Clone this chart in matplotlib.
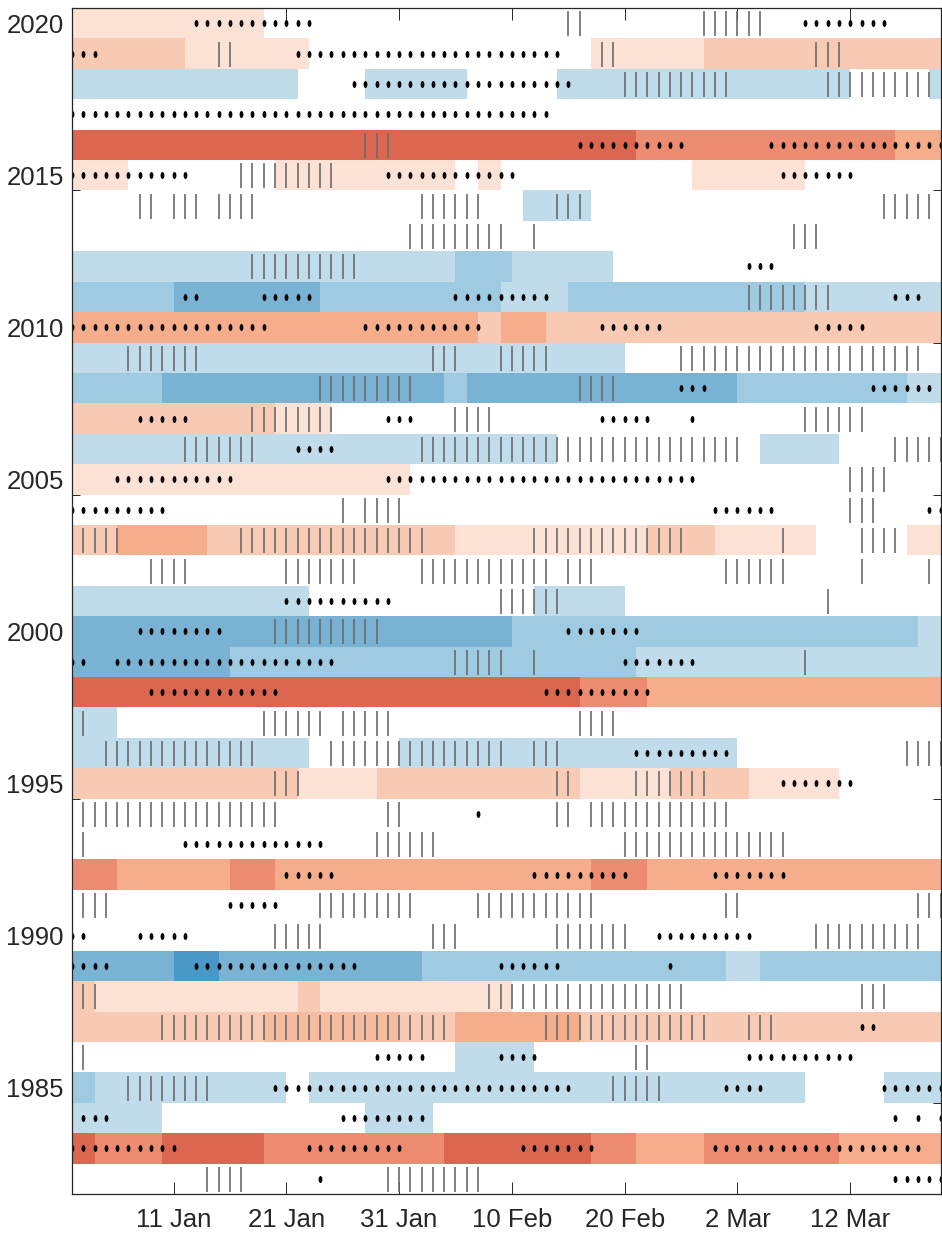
import matplotlib
matplotlib.use("Agg")
import matplotlib.pyplot as plt
from matplotlib.path import Path
from matplotlib.transforms import Affine2D

plt.rcParams['font.family'] = ['Liberation Sans', 'DejaVu Sans']

# day-of-year tick positions and labels
tick_days = [11, 21, 31, 41, 51, 61, 71]
tick_labels = ['11 Jan', '21 Jan', '31 Jan', '10 Feb', '20 Feb', '2 Mar', '12 Mar']
year_ticks = [1985, 1990, 1995, 2000, 2005, 2010, 2015, 2020]

# colour per state level (negative = blue, positive = red)
level_colors = {
    -4: '#4a96c7', -3: '#7ab2d4', -2: '#9ecbe1', -1: '#c0dcea',
    1: '#fce2d5', 2: '#f9cab3', 2.5: '#f7bc9f', 3: '#f5ad8b', 4: '#ec8b70', 5: '#db6751',
}

# coloured bar segments per year: (start day, end day, level)
bar_runs = {
    2020: [(2, 19, 1)],
    2019: [(2, 12, 2), (12, 23, 1), (48, 58, 1), (58, 79, 2)],
    2018: [(2, 22, -1), (28, 37, -1), (45, 71, -1), (78, 79, -1)],
    2016: [(2, 52, 5), (52, 75, 4), (75, 79, 3)],
    2015: [(2, 7, 1), (20, 36, 1), (38, 40, 1), (57, 67, 1)],
    2014: [(42, 48, -1)],
    2012: [(2, 36, -1), (36, 41, -2), (41, 50, -1)],
    2011: [(2, 11, -2), (11, 24, -3), (24, 40, -2), (40, 46, -1), (46, 67, -2), (67, 79, -1)],
    2010: [(2, 38, 3), (38, 40, 2), (40, 44, 3), (44, 79, 2)],
    2009: [(2, 51, -1)],
    2008: [(2, 10, -2), (10, 35, -3), (35, 37, -2), (37, 61, -3), (61, 76, -2), (76, 79, -1)],
    2007: [(2, 20, 2), (20, 25, 1)],
    2006: [(2, 45, -1), (63, 70, -1)],
    2005: [(2, 32, 1)],
    2003: [(2, 6, 2), (6, 14, 3), (14, 36, 2), (36, 53, 1), (53, 59, 2), (59, 68, 1), (76, 79, 1)],
    2001: [(2, 23, -1), (43, 51, -1)],
    2000: [(2, 41, -3), (41, 77, -2), (77, 79, -1)],
    1999: [(2, 16, -3), (16, 52, -2), (52, 79, -1)],
    1998: [(2, 47, 5), (47, 53, 4), (53, 79, 3)],
    1997: [(2, 6, -1)],
    1996: [(2, 23, -1), (31, 61, -1)],
    1995: [(2, 22, 2), (22, 29, 1), (29, 47, 2), (47, 55, 1), (55, 62, 2), (62, 70, 1)],
    1992: [(2, 6, 4), (6, 16, 3), (16, 20, 4), (20, 48, 3), (48, 53, 4), (53, 79, 3)],
    1989: [(2, 11, -3), (11, 15, -4), (15, 33, -3), (33, 60, -2), (60, 63, -1), (63, 79, -2)],
    1988: [(2, 4, 2), (4, 22, 1), (22, 24, 2), (24, 41, 1)],
    1987: [(2, 19, 2), (19, 31, 2.5), (31, 36, 2), (36, 47, 3), (47, 79, 2)],
    1986: [(36, 43, -1)],
    1985: [(2, 4, -2), (4, 21, -1), (23, 67, -1), (74, 79, -1)],
    1984: [(2, 10, -1), (28, 34, -1)],
    1983: [(2, 4, 5), (4, 10, 4), (10, 19, 5), (19, 35, 4), (35, 48, 5), (48, 52, 4),
           (52, 58, 3), (58, 70, 4), (70, 79, 3)],
}

# days marked with a vertical line, as runs of consecutive days (first, last)
line_runs = {
    2020: [(46, 47), (58, 63)],
    2019: [(15, 16), (49, 50), (68, 70)],
    2018: [(51, 60), (69, 78)],
    2016: [(28, 30)],
    2015: [(17, 25)],
    2014: [(8, 9), (11, 13), (15, 18), (33, 38), (45, 47), (74, 78)],
    2013: [(32, 40), (43, 43), (66, 68)],
    2012: [(18, 27)],
    2011: [(62, 69)],
    2009: [(7, 13), (34, 36), (40, 44), (56, 77)],
    2008: [(24, 32), (47, 50)],
    2007: [(18, 25), (36, 39), (67, 72)],
    2006: [(12, 18), (33, 61), (75, 79)],
    2005: [(71, 74)],
    2004: [(26, 26), (28, 31), (71, 73)],
    2003: [(2, 6), (17, 33), (43, 56), (65, 65), (72, 75)],
    2002: [(9, 12), (21, 27), (33, 44), (46, 48), (60, 65), (72, 72), (78, 78)],
    2001: [(40, 45), (69, 69)],
    2000: [(20, 29)],
    1999: [(36, 40), (43, 43), (67, 67)],
    1997: [(3, 3), (19, 24), (26, 30), (47, 50)],
    1996: [(2, 2), (5, 18), (25, 40), (43, 45), (76, 79)],
    1995: [(20, 22), (45, 46), (52, 58)],
    1994: [(2, 20), (30, 31), (45, 46), (48, 60)],
    1993: [(2, 3), (29, 34), (51, 65)],
    1991: [(2, 5), (24, 32), (38, 48), (60, 61), (77, 79)],
    1990: [(20, 24), (34, 36), (45, 51), (68, 77)],
    1988: [(3, 4), (39, 56), (72, 74)],
    1987: [(10, 35), (44, 58), (62, 64)],
    1986: [(2, 3), (52, 53)],
    1985: [(7, 14), (50, 54)],
    1982: [(14, 17), (30, 38)],
}

# days marked with a dot, as runs of consecutive days (first, last)
dot_runs = {
    2020: [(13, 23), (67, 74)],
    2019: [(2, 4), (22, 45)],
    2018: [(27, 46)],
    2017: [(2, 44)],
    2016: [(47, 56), (64, 79)],
    2015: [(2, 12), (30, 41), (65, 71)],
    2012: [(62, 64)],
    2011: [(12, 13), (19, 23), (36, 44), (75, 77)],
    2010: [(2, 19), (28, 38), (49, 54), (68, 72)],
    2008: [(56, 58), (73, 78)],
    2007: [(8, 12), (30, 32), (49, 53), (57, 57)],
    2006: [(22, 25)],
    2005: [(6, 16), (30, 57)],
    2004: [(2, 10), (59, 64), (78, 79)],
    2001: [(21, 30)],
    2000: [(8, 15), (46, 52)],
    1999: [(2, 3), (6, 25), (51, 57)],
    1998: [(9, 20), (44, 53)],
    1996: [(52, 60)],
    1995: [(65, 71)],
    1994: [(38, 38)],
    1993: [(12, 24)],
    1992: [(21, 25), (43, 51), (59, 65)],
    1991: [(16, 20)],
    1990: [(2, 3), (8, 12), (54, 62)],
    1989: [(2, 5), (13, 27), (40, 45), (55, 55)],
    1987: [(72, 73)],
    1986: [(29, 33), (40, 43), (62, 71)],
    1985: [(20, 46), (60, 63), (74, 79)],
    1984: [(3, 5), (26, 33), (75, 75), (77, 77), (79, 79)],
    1983: [(2, 11), (23, 31), (42, 48), (59, 77)],
    1982: [(24, 24), (75, 79)],
}


def expand(runs):
    out = []
    for a, b in runs:
        out.extend(range(a, b + 1))
    return out


W, H = 942, 1238
fig = plt.figure(figsize=(W / 100, H / 100), dpi=100)
ax = fig.add_axes([72 / W, 1 - 1194 / H, (940.5 - 72) / W, (1194 - 8) / H])

for year, segs in bar_runs.items():
    for a, b, lvl in segs:
        ax.barh(year, b - a, left=a, height=1.0, color=level_colors[lvl],
                edgecolor='none', linewidth=0, zorder=1)

ell = Path.unit_circle().transformed(Affine2D().scale(0.55, 1.0))

for year, runs in line_runs.items():
    xs = expand(runs)
    ax.plot(xs, [year] * len(xs), ls='none', marker='|', markersize=18,
            markeredgewidth=1.2, color='#6b6b6b', zorder=3)

for year, runs in dot_runs.items():
    xs = expand(runs)
    ax.plot(xs, [year] * len(xs), ls='none', marker=ell, markersize=5,
            color='black', markeredgewidth=0, zorder=4)

ax.set_xlim(2, 79)
ax.set_ylim(1981.5, 2020.5)
ax.set_xticks(tick_days)
ax.set_xticklabels(tick_labels)
# labels sit on the row centres; tick marks sit on the row's lower edge
ax.set_yticks(year_ticks)
ax.set_yticklabels([str(y) for y in year_ticks])
ax.set_yticks([y - 0.5 for y in year_ticks], minor=True)
ax.tick_params(axis='x', direction='in', length=8.5, width=0.7, color='#262626',
               labelsize=18.5, labelcolor='#262626', top=True, pad=10)
ax.tick_params(axis='y', which='major', length=0, labelsize=18.5,
               labelcolor='#262626', pad=6)
ax.tick_params(axis='y', which='minor', direction='in', length=6, width=0.7,
               color='#262626', left=True, right=True)
for s in ax.spines.values():
    s.set_color('#262626')
    s.set_linewidth(0.9)
    s.set_zorder(5)
ax.set_axisbelow(True)

fig.savefig('out.png', dpi=100)
